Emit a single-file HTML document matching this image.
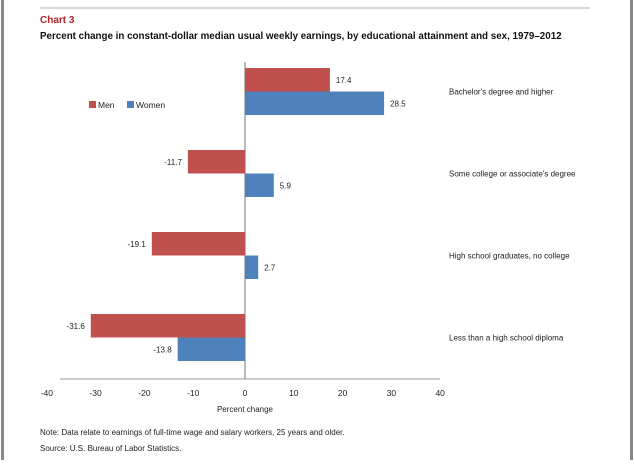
<!DOCTYPE html>
<html><head><meta charset="utf-8"><style>
body{margin:0;background:#fff;font-family:"Liberation Sans",sans-serif;}
svg text{font-family:"Liberation Sans",sans-serif;}
</style></head><body>
<svg width="634" height="460" viewBox="0 0 634 460">
<rect x="1" y="0" width="3" height="460" fill="#888"/>
<rect x="630" y="0" width="3" height="460" fill="#888"/>
<line x1="40" y1="8" x2="590" y2="8" stroke="#ccc" stroke-width="1.5"/>
<text x="40" y="23" font-size="10" font-weight="bold" fill="#b5222a">Chart 3</text>
<text x="40" y="39" font-size="9.8" font-weight="bold" fill="#111">Percent change in constant-dollar median usual weekly earnings, by educational attainment and sex, 1979–2012</text>
<g>
<rect x="89" y="101" width="7" height="7" fill="#c0504d"/>
<text x="98" y="108" font-size="8.5" fill="#222">Men</text>
<rect x="127" y="101" width="7" height="7" fill="#4f81bd"/>
<text x="136" y="108" font-size="8.5" fill="#222">Women</text>
</g>
<g id="plot"></g>
<text x="245" y="412" font-size="8" text-anchor="middle" fill="#222">Percent change</text>
<text x="40" y="435" font-size="8" fill="#222">Note: Data relate to earnings of full-time wage and salary workers, 25 years and older.</text>
<text x="40" y="451" font-size="8" fill="#222">Source: U.S. Bureau of Labor Statistics.</text>
</svg>
<script>
const categories=["Bachelor's degree and higher","Some college or associate's degree","High school graduates, no college","Less than  a high school diploma"];
const men=[17.4,-11.7,-19.1,-31.6];
const women=[28.5,5.9,2.7,-13.8];
const ticks=[-40,-30,-20,-10,0,10,20,30,40];
const NS="http://www.w3.org/2000/svg";
const g=document.getElementById('plot');
const x0=245,scale=4.88;
const xs=v=>x0+v*scale;
const top0=62,band=82,barH=23.5;
function mk(t,a){const e=document.createElementNS(NS,t);for(const k in a)e.setAttribute(k,a[k]);g.appendChild(e);return e;}
const ax=mk('line',{x1:60,y1:379,x2:440,y2:379,stroke:'#999','stroke-width':1});


const vx=mk('line',{x1:x0,y1:top0,x2:x0,y2:379,stroke:'#777','stroke-width':1});


ticks.forEach(t=>{const e=mk('text',{x:xs(t)+(t<0?-3:0),y:396,'font-size':8.5,'text-anchor':'middle',fill:'#222'});e.textContent=t;

});
categories.forEach((c,i)=>{
 const yb=top0+6+i*band;
 [[men[i],'#c0504d',yb,'men'],[women[i],'#4f81bd',yb+barH,'women']].forEach(([v,col,y,s])=>{
  const r=mk('rect',{x:Math.min(xs(0),xs(v)),y:y,width:Math.abs(xs(v)-xs(0)),height:barH,fill:col});
  
  
  const t=mk('text',{x:v>=0?xs(v)+6:xs(v)-6,y:y+barH/2+3,'font-size':8,'text-anchor':v>=0?'start':'end',fill:'#222'});
  t.textContent=v.toFixed(1);
  
  
 });
 const l=mk('text',{x:449,y:yb+barH+3,'font-size':8,fill:'#222'});
 l.textContent=c;
 
 
});
</script>
</body></html>
